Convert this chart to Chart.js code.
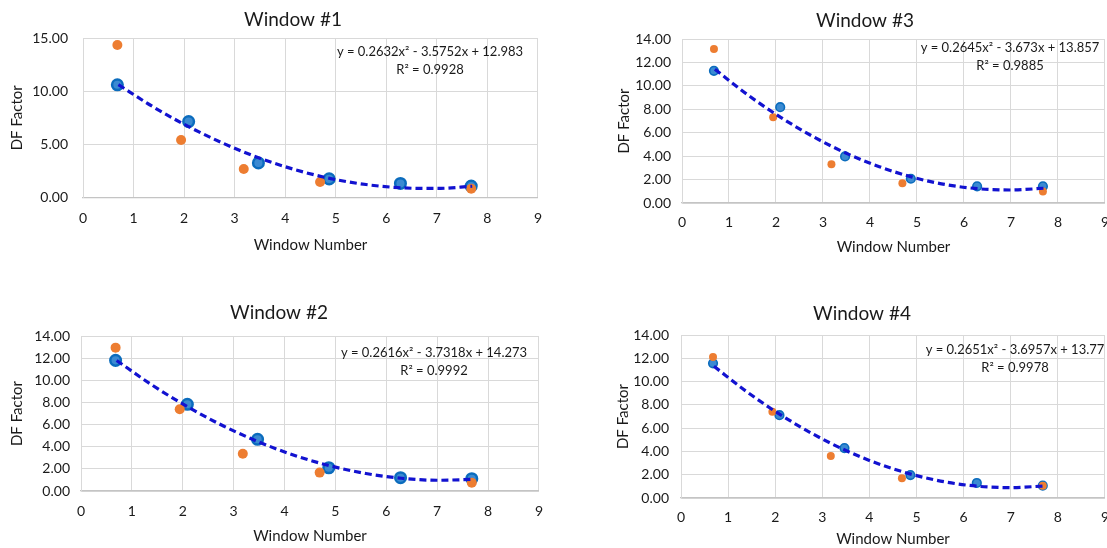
<!DOCTYPE html>
<html>
<head>
<meta charset="utf-8">
<script src="https://cdn.jsdelivr.net/npm/chart.js@4/dist/chart.umd.min.js"></script>
<style>
  html, body { margin: 0; padding: 0; background: #fff; overflow: hidden; width: 1107px; height: 548px; }
  canvas { position: absolute; }
</style>
</head>
<body>
<canvas id="w1" width="555" height="260" style="left:0;top:0"></canvas>
<canvas id="w3" width="560" height="260" style="left:560px;top:0"></canvas>
<canvas id="w2" width="555" height="258" style="left:0;top:290px"></canvas>
<canvas id="w4" width="560" height="258" style="left:560px;top:290px"></canvas>
<script>
// values
const blueX = [0.68, 2.09, 3.47, 4.87, 6.28, 7.68];
const orangeX = [0.68, 1.94, 3.18, 4.69, 7.68];
const trendX = [0.7, 1.4, 2.1, 2.8, 3.5, 4.2, 4.9, 5.6, 6.3, 7.0, 7.7];

const w1Blue = [10.6, 7.14, 3.25, 1.75, 1.32, 1.08];
const w1Orange = [14.35, 5.4, 2.68, 1.45, 0.82];
const w1Trend = [10.61, 8.49, 6.64, 5.04, 3.69, 2.61, 1.78, 1.22, 0.91, 0.85, 1.06];

const w2Blue = [11.8, 7.83, 4.67, 2.1, 1.2, 1.11];
const w2Orange = [12.95, 7.38, 3.37, 1.66, 0.75];
const w2Trend = [11.79, 9.56, 7.59, 5.87, 4.42, 3.21, 2.27, 1.58, 1.15, 0.97, 1.05];

const w3Blue = [11.28, 8.18, 3.98, 2.07, 1.42, 1.42];
const w3Orange = [13.15, 7.33, 3.3, 1.68, 0.99];
const w3Trend = [11.42, 9.23, 7.31, 5.65, 4.24, 3.1, 2.21, 1.58, 1.22, 1.11, 1.26];

const w4Blue = [11.57, 7.11, 4.29, 1.97, 1.29, 1.06];
const w4Orange = [12.11, 7.4, 3.6, 1.69, 1.06];
const w4Trend = [11.31, 9.12, 7.18, 5.5, 4.08, 2.92, 2.03, 1.39, 1.01, 0.89, 1.03];

const titles = ['Window #1', 'Window #2', 'Window #3', 'Window #4'];
const equations = [
  'y = 0.2632x\u00b2 - 3.5752x + 12.983',
  'y = 0.2616x\u00b2 - 3.7318x + 14.273',
  'y = 0.2645x\u00b2 - 3.673x + 13.857',
  'y = 0.2651x\u00b2 - 3.6957x + 13.77'
];
const rSquared = ['R\u00b2 = 0.9928', 'R\u00b2 = 0.9992', 'R\u00b2 = 0.9885', 'R\u00b2 = 0.9978'];
const xTicks = [0, 1, 2, 3, 4, 5, 6, 7, 8, 9];
const yMax = [15, 14, 14, 14];
const yStep = [5, 2, 2, 2];

const FONT = 'Lato, "Open Sans", sans-serif';
const pts = (xs, ys) => xs.map((x, i) => ({ x, y: ys[i] }));

// text that Excel puts over the plot
const notes = {
  id: 'notes',
  afterDraw(chart, args, o) {
    const ctx = chart.ctx;
    ctx.save();
    ctx.fillStyle = '#1a1a1a';
    ctx.textAlign = 'center';
    ctx.textBaseline = 'middle';
    ctx.font = '19px ' + FONT;
    ctx.fillText(o.title, o.tx, o.ty);
    ctx.font = '13px ' + FONT;
    ctx.fillText(o.eq, o.ex, o.ey);
    ctx.fillText(o.r2, o.ex, o.ey + 18);
    ctx.restore();
  }
};

function makeChart(id, n, blue, orange, trend, g) {
  const el = document.getElementById(id);
  return new Chart(el, {
    type: 'scatter',
    data: {
      datasets: [
        {
          type: 'line', data: pts(trendX, trend), order: 0,
          borderColor: '#1212d0', borderWidth: 3.2, borderDash: [7, 4],
          cubicInterpolationMode: 'monotone', pointRadius: 0, fill: false
        },
        {
          data: pts(orangeX, orange), order: 1,
          backgroundColor: '#ed7d31', borderColor: '#ed7d31', pointRadius: g.r, borderWidth: 0
        },
        {
          data: pts(blueX, blue), order: 2,
          backgroundColor: '#3b8ad2', borderColor: '#0b6cbd', pointRadius: g.r + 0.3, pointBorderWidth: g.bw
        }
      ]
    },
    options: {
      responsive: false,
      animation: false,
      layout: { padding: { top: g.top, right: el.width - g.right, left: 0, bottom: 0 } },
      plugins: {
        legend: { display: false },
        tooltip: { enabled: false },
        notes: { title: titles[n], eq: equations[n], r2: rSquared[n], tx: g.tx, ty: g.ty, ex: g.ex, ey: g.ey }
      },
      scales: {
        x: {
          type: 'linear', min: 0, max: 9,
          afterBuildTicks: s => { s.ticks = xTicks.map(v => ({ value: v })); },
          afterFit: s => { s.height = el.height - g.bottom; },
          grid: { color: '#d9d9d9', drawTicks: false },
          border: { color: '#c4c4c4', width: 1.3 },
          ticks: { padding: g.xpad, color: '#1a1a1a', font: { family: FONT, size: 14 } },
          title: { display: true, text: 'Window Number', color: '#1a1a1a', font: { family: FONT, size: 15 }, padding: { bottom: g.xtb, top: 0 } }
        },
        y: {
          min: 0, max: yMax[n],
          afterFit: s => { s.width = g.left; },
          grid: { color: '#d9d9d9', drawTicks: false },
          border: { color: '#d9d9d9' },
          ticks: { stepSize: yStep[n], padding: g.ypad, color: '#1a1a1a', font: { family: FONT, size: 14 }, callback: v => v.toFixed(2) },
          title: { display: true, text: 'DF Factor', color: '#1a1a1a', font: { family: FONT, size: 15 }, padding: { top: g.ytt, bottom: 0 } }
        }
      }
    },
    plugins: [notes]
  });
}

makeChart('w1', 0, w1Blue, w1Orange, w1Trend,
  { left: 83, right: 542, top: 38, bottom: 197.5, xpad: 13, ypad: 15, xtb: 6, ytt: 8, r: 5, bw: 2.5, tx: 293, ty: 20, ex: 430, ey: 52 });
makeChart('w3', 2, w3Blue, w3Orange, w3Trend,
  { left: 122, right: 552, top: 39, bottom: 203, xpad: 11, ypad: 11, xtb: 4, ytt: 55, r: 4, bw: 1.6, tx: 305, ty: 21, ex: 450, ey: 48 });
makeChart('w2', 1, w2Blue, w2Orange, w2Trend,
  { left: 81, right: 540.5, top: 46, bottom: 201, xpad: 12, ypad: 11, xtb: 3, ytt: 8, r: 5, bw: 2.5, tx: 279, ty: 23, ex: 434, ey: 63 });
makeChart('w4', 3, w4Blue, w4Orange, w4Trend,
  { left: 121, right: 551.5, top: 45, bottom: 208, xpad: 11, ypad: 12, xtb: 0, ytt: 54, r: 4, bw: 1.6, tx: 302, ty: 24, ex: 455, ey: 60 });
</script>
</body>
</html>
